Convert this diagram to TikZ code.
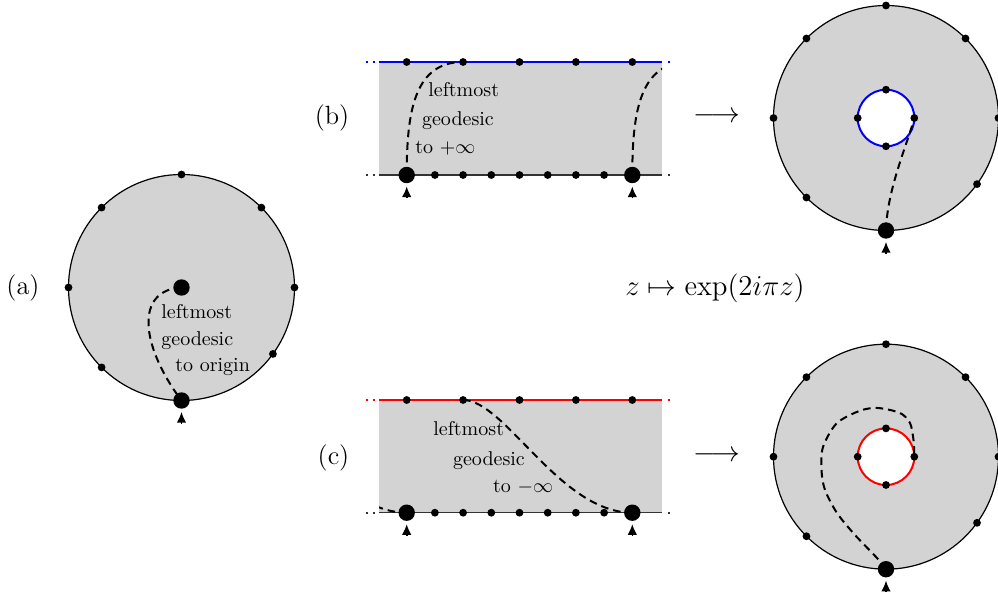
\documentclass[tikz,border=0pt]{standalone}
\usetikzlibrary{arrows.meta,calc}
\definecolor{fillg}{RGB}{211,211,211}
\begin{document}
\begin{tikzpicture}[x=0.5pt,y=-0.5pt,
  sdot/.style={circle,fill=black,inner sep=0pt,minimum size=3.9pt},
  bdot/.style={circle,fill=black,inner sep=0pt,minimum size=8.2pt},
  geo/.style={dash pattern=on 3.8pt off 2.5pt, line width=1pt},
  rim/.style={line width=0.6pt},
  lbl/.style={inner sep=0pt, anchor=base west, font=\normalsize},
  tag/.style={inner sep=0pt, font=\fontsize{13.2}{15}\selectfont},
  marker/.style={-{Latex[length=5.4pt,width=4.8pt]}, line width=0.8pt, shorten >=1.4pt},
  ext/.style={line width=1pt, dash pattern=on 1pt off 2.5pt},
  ]
\useasboundingbox (0,0) rectangle (998,594);

% ---------------- (a) disc ----------------
\coordinate (ca) at (181.5,287.5);
\fill[fillg] (ca) circle[radius=56.5pt];
\draw[rim] (ca) circle[radius=56.5pt];
\coordinate (aO) at (ca);
\coordinate (aB) at ([shift={(270:56.5pt)}]ca);
\draw[geo] (aO) .. controls (135,290) and (140,345) .. (aB);
\foreach \a in {0,45,90,135,180,225,324}
  \node[sdot] (a\a) at ([shift={(\a:56.5pt)}]ca) {};
\node[bdot] (aOd) at (aO) {};
\node[bdot] (aBd) at (aB) {};
\coordinate (aT) at ([shift={(0,-11.5pt)}]aB);
\draw[marker] (aT) -- (aBd);
\node[tag] (la) at (23,288) {(a)};
\node[lbl] (a1) at (161,318.3) {leftmost};
\node[lbl] (a2) at (161,345) {geodesic};
\node[lbl] (a3) at (175,371.7) {to origin};

% ---------------- (b) strip ----------------
\fill[fillg] (379,62) rectangle (662,175);
\draw[blue, line width=1pt] (379,62) -- (662,62);
\draw[black!80, line width=0.6pt] (379,175) -- (662,175);
\draw[blue, ext] (365.5,62) -- (375,62);
\draw[blue, ext] (668,62) -- (671,62);
\draw[black!80, ext] (365.5,175) -- (375,175);
\draw[black!80, ext] (668,175) -- (671,175);
\foreach \k in {0,...,4}
  \coordinate (bT\k) at ({406.7+56.4*\k},62);
\foreach \k in {0,...,8}
  \coordinate (bB\k) at ({406.7+28.2*\k},175);
\draw[geo] (bB0) .. controls (406.7,110) and (415,62) .. (bT1);
\begin{scope}
  \clip (379,50) rectangle (662,180);
  \draw[geo] (bB8) .. controls (632.3,110) and (640.6,62) .. (688.9,62);
\end{scope}
\foreach \k in {0,...,4} \node[sdot] (bTd\k) at (bT\k) {};
\foreach \k in {1,...,7} \node[sdot] (bBd\k) at (bB\k) {};
\node[bdot] (bBd0) at (bB0) {};
\node[bdot] (bBd8) at (bB8) {};
\coordinate (bA0) at ([shift={(0,-11.5pt)}]bB0);
\coordinate (bA8) at ([shift={(0,-11.5pt)}]bB8);
\draw[marker] (bA0) -- (bBd0);
\draw[marker] (bA8) -- (bBd8);
\node[tag] (lb) at (332,118) {(b)};
\node[lbl] (b1) at (428,96.7) {leftmost};
\node[lbl] (b2) at (421.7,125.7) {geodesic};
\node[lbl] (b3) at (415,153.3) {to $+\infty$};

% ---------------- (b) annulus ----------------
\coordinate (cb) at (886,118);
\fill[fillg, even odd rule] (cb) circle[radius=56.25pt] (cb) circle[radius=14.15pt];
\draw[rim] (cb) circle[radius=56.25pt];
\draw[blue, line width=1pt] (cb) circle[radius=14.15pt];
\coordinate (bbB) at ([shift={(270:56.25pt)}]cb);
\coordinate (bbR) at ([shift={(0:14.15pt)}]cb);
\draw[geo] (bbB) .. controls (887,190) and (907,145) .. (bbR);
\foreach \a in {0,45,90,135,180,225,324}
  \node[sdot] (bo\a) at ([shift={(\a:56.25pt)}]cb) {};
\foreach \a in {0,90,180,270}
  \node[sdot] (bi\a) at ([shift={(\a:14.15pt)}]cb) {};
\node[bdot] (bbBd) at (bbB) {};
\coordinate (bbT) at ([shift={(0,-11.5pt)}]bbB);
\draw[marker] (bbT) -- (bbBd);
\node[font=\Large] (arb) at (717,117) {$\longrightarrow$};

% ---------------- map ----------------
\node[font=\Large, inner sep=0pt] (map) at (715,288) {$z\mapsto\exp(2i\pi z)$};

% ---------------- (c) strip ----------------
\fill[fillg] (379,400) rectangle (662,512.7);
\draw[red, line width=1pt] (379,400) -- (662,400);
\draw[black!80, line width=0.6pt] (379,512.7) -- (662,512.7);
\draw[red, ext] (365.5,400) -- (375,400);
\draw[red, ext] (668,400) -- (671,400);
\draw[black!80, ext] (365.5,512.7) -- (375,512.7);
\draw[black!80, ext] (668,512.7) -- (671,512.7);
\foreach \k in {0,...,4}
  \coordinate (cT\k) at ({406.7+56.4*\k},400);
\foreach \k in {0,...,8}
  \coordinate (cB\k) at ({406.7+28.2*\k},512.7);
\draw[geo] (cT1) .. controls (505,400) and (560,512.7) .. (cB8);
\begin{scope}
  \clip (379,390) rectangle (662,520);
  \draw[geo] (237.7,400) .. controls (279.4,400) and (334.4,512.7) .. (cB0);
\end{scope}
\foreach \k in {0,...,4} \node[sdot] (cTd\k) at (cT\k) {};
\foreach \k in {1,...,7} \node[sdot] (cBd\k) at (cB\k) {};
\node[bdot] (cBd0) at (cB0) {};
\node[bdot] (cBd8) at (cB8) {};
\coordinate (cA0) at ([shift={(0,-11.5pt)}]cB0);
\coordinate (cA8) at ([shift={(0,-11.5pt)}]cB8);
\draw[marker] (cA0) -- (cBd0);
\draw[marker] (cA8) -- (cBd8);
\node[tag] (lc) at (333.5,458) {(c)};
\node[lbl] (c1) at (433,435.7) {leftmost};
\node[lbl] (c2) at (452.7,465) {geodesic};
\node[lbl] (c3) at (492.7,492.3) {to $-\infty$};

% ---------------- (c) annulus ----------------
\coordinate (cc) at (886,456.7);
\fill[fillg, even odd rule] (cc) circle[radius=56.25pt] (cc) circle[radius=14.15pt];
\draw[rim] (cc) circle[radius=56.25pt];
\draw[red, line width=1pt] (cc) circle[radius=14.15pt];
\coordinate (ccB) at ([shift={(270:56.25pt)}]cc);
\coordinate (ccR) at ([shift={(0:14.15pt)}]cc);
\draw[geo] plot[smooth] coordinates {(ccB) (877,558) (855,535) (837,513) (825,490) (821.5,470) (823,447) (836.7,423.3) (860,410.7) (878,408) (900,413) (910,423) (913.5,440) (ccR)};
\foreach \a in {0,45,90,135,180,225,324}
  \node[sdot] (co\a) at ([shift={(\a:56.25pt)}]cc) {};
\foreach \a in {0,90,180,270}
  \node[sdot] (ci\a) at ([shift={(\a:14.15pt)}]cc) {};
\node[bdot] (ccBd) at (ccB) {};
\coordinate (ccT) at ([shift={(0,-11.5pt)}]ccB);
\draw[marker] (ccT) -- (ccBd);
\node[font=\Large] (arc) at (717,456) {$\longrightarrow$};
\end{tikzpicture}
\end{document}
